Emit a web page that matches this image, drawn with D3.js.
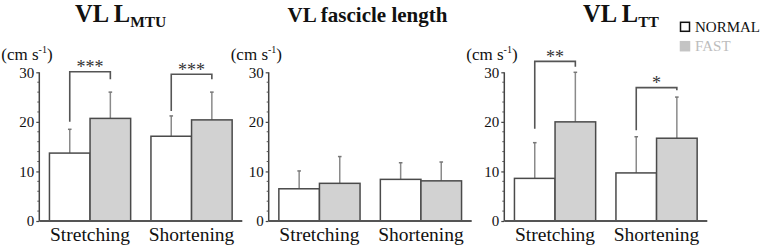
<!DOCTYPE html>
<html><head><meta charset="utf-8">
<script src="https://cdn.jsdelivr.net/npm/d3@7"></script>
<style>body{margin:0;background:#fff}svg{display:block}</style>
</head><body>
<svg id="c" width="765" height="251" font-family="Liberation Serif"></svg>
<script>
const groups = ["Stretching", "Shortening"];
const seriesNames = ["NORMAL", "FAST"];
const yTicks = [0, 10, 20, 30];
const unitLabel = "(cm s";
const unitSup = "-1";

// Panel 1: VL L_MTU
const mtuNormal = [13.7, 17.1];
const mtuNormalSD = [4.8, 4.1];
const mtuFast = [20.7, 20.4];
const mtuFastSD = [5.3, 5.6];
const mtuSig = [
  {g: 0, top: 30.1, left: 20.0, right: 28.6, label: "***"},
  {g: 1, top: 29.6, left: 22.2, right: 28.6, label: "***"}
];
// Panel 2: VL fascicle length
const fasNormal = [6.5, 8.4];
const fasNormalSD = [3.6, 3.35];
const fasFast = [7.6, 8.1];
const fasFastSD = [5.4, 3.8];
const fasSig = [];
// Panel 3: VL L_TT
const ttNormal = [8.6, 9.7];
const ttNormalSD = [7.2, 7.3];
const ttFast = [20.0, 16.7];
const ttFastSD = [10.0, 8.3];
const ttSig = [
  {g: 0, top: 32.2, left: 18.6, right: 31.1, label: "**"},
  {g: 1, top: 26.9, left: 18.3, right: 26.4, label: "*"}
];

const panels = [
  {x0: 39.3, title: "VL L", sub: "MTU", tx: 75, normal: mtuNormal, nsd: mtuNormalSD, fast: mtuFast, fsd: mtuFastSD, sig: mtuSig},
  {x0: 268.7, title: "VL fascicle length", sub: null, tx: 367.5, normal: fasNormal, nsd: fasNormalSD, fast: fasFast, fsd: fasFastSD, sig: fasSig},
  {x0: 504.3, title: "VL L", sub: "TT", tx: 583, normal: ttNormal, nsd: ttNormalSD, fast: ttFast, fsd: ttFastSD, sig: ttSig}
];

const serif = "Liberation Serif";
const svg = d3.select("#c");
const y = d3.scaleLinear().domain([0, 30]).range([221, 72.3]);
const fills = {NORMAL: "#ffffff", FAST: "#d2d2d2"};

panels.forEach((p, pi) => {
  const g = svg.append("g").attr("transform", `translate(${p.x0},0)`);
  const x = d3.scaleBand().domain(groups).range([0, 203]).paddingInner(0.2).paddingOuter(0.1);
  const xs = d3.scaleBand().domain(seriesNames).range([0, x.bandwidth()]);

  // title
  const t = svg.append("text").attr("y", 21.7).attr("font-family", serif).attr("font-weight", "bold").attr("fill", "#111");
  if (p.sub) {
    t.attr("x", p.tx).attr("font-size", 24.5);
    t.append("tspan").text(p.title);
    t.append("tspan").attr("font-size", 15.5).attr("dy", 5).text(p.sub);
  } else {
    t.attr("x", p.tx).attr("text-anchor", "middle").attr("font-size", 21).text(p.title);
  }

  // unit label
  const u = g.append("text").attr("x", -38).attr("y", 60).attr("font-family", serif).attr("font-size", 17).attr("fill", "#111");
  u.append("tspan").text(unitLabel);
  u.append("tspan").attr("font-size", 10).attr("dy", -7).text(unitSup);
  u.append("tspan").attr("dy", 7).text(")");

  // rows
  const rows = groups.map((gr, i) => [
    {grp: gr, s: "NORMAL", v: p.normal[i], sd: p.nsd[i]},
    {grp: gr, s: "FAST", v: p.fast[i], sd: p.fsd[i]}
  ]).flat();
  const cx = d => x(d.grp) + xs(d.s) + xs.bandwidth() / 2;

  // error bars
  g.selectAll("line.err").data(rows).join("line")
    .attr("x1", cx).attr("x2", cx).attr("y1", d => y(d.v)).attr("y2", d => y(d.v + d.sd))
    .attr("stroke", "#8a8a8a").attr("stroke-width", 1.5);
  g.selectAll("line.cap").data(rows).join("line")
    .attr("x1", d => cx(d) - 1.8).attr("x2", d => cx(d) + 1.8).attr("y1", d => y(d.v + d.sd)).attr("y2", d => y(d.v + d.sd))
    .attr("stroke", "#777").attr("stroke-width", 1.5);

  // bars
  g.selectAll("rect.bar").data(rows).join("rect")
    .attr("x", d => x(d.grp) + xs(d.s)).attr("width", xs.bandwidth())
    .attr("y", d => y(d.v)).attr("height", d => y(0) - y(d.v))
    .attr("fill", d => fills[d.s]).attr("stroke", "#4a4a4a").attr("stroke-width", 1.5);

  // y axis
  const ax = d3.axisLeft(y).tickValues(yTicks).tickSize(3).tickPadding(2).tickFormat(d3.format("d"));
  const ag = g.append("g").call(ax).attr("font-family", serif);
  ag.select(".domain").attr("stroke", "#444").attr("stroke-width", 1.5).attr("d", `M0,${y(30)}V${y(0)}`);
  ag.selectAll(".tick line").attr("stroke", "#444").attr("stroke-width", 1.2);
  ag.selectAll(".tick text").attr("font-size", 15).attr("fill", "#111");
  const minor = d3.range(0, 31, 2).filter(v => v % 10 !== 0);
  g.selectAll("line.minor").data(minor).join("line")
    .attr("x1", -2).attr("x2", 0).attr("y1", d => y(d)).attr("y2", d => y(d))
    .attr("stroke", "#555").attr("stroke-width", 1);

  // x axis
  const xa = d3.axisBottom(x).tickSize(0).tickPadding(5);
  const xg = g.append("g").attr("transform", `translate(0,${y(0)})`).call(xa).attr("font-family", serif);
  xg.select(".domain").attr("stroke", "#555").attr("stroke-width", 2).attr("d", "M0,0H203");
  xg.selectAll(".tick text").attr("font-size", 19.5).attr("fill", "#111").attr("dy", "0.76em");

  // significance brackets
  p.sig.forEach(s => {
    const gr = groups[s.g];
    const xl = x(gr) + xs("NORMAL") + xs.bandwidth() / 2;
    const xr = x(gr) + xs("FAST") + xs.bandwidth() / 2;
    g.append("path")
      .attr("d", `M${xl},${y(s.left)}V${y(s.top)}H${xr}V${y(s.right)}`)
      .attr("fill", "none").attr("stroke", "#555").attr("stroke-width", 1.6);
    g.append("text").attr("x", (xl + xr) / 2).attr("y", y(s.top) + 1.6)
      .attr("text-anchor", "middle").attr("font-family", serif).attr("font-size", 18).attr("fill", "#333").text(s.label);
  });
});

// legend
const lg = svg.append("g");
const legendY = [22.3, 41.7];
seriesNames.forEach((s, i) => {
  lg.append("rect").attr("x", 680.5).attr("y", legendY[i]).attr("width", 9).attr("height", 9)
    .attr("fill", s === "FAST" ? "#c4c4c4" : "#fff").attr("stroke", s === "FAST" ? "#c4c4c4" : "#111").attr("stroke-width", 1.5);
  lg.append("text").attr("x", 695).attr("y", legendY[i] + 9.5).attr("font-family", serif).attr("font-size", 15)
    .attr("fill", s === "FAST" ? "#bdbdbd" : "#111").text(s);
});
</script>
</body></html>
